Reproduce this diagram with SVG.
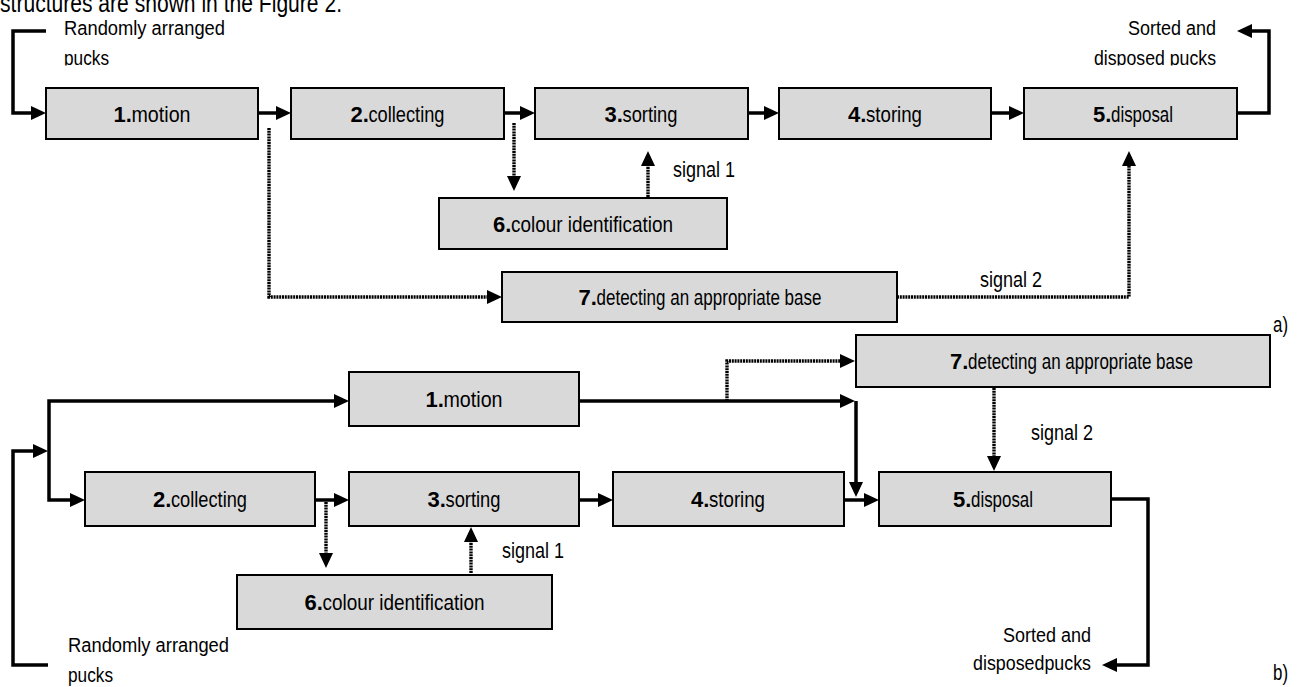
<svg xmlns="http://www.w3.org/2000/svg" width="1301" height="687" viewBox="0 0 1301 687">
<style>
text{font-family:"Liberation Sans",Arial,sans-serif;font-size:22px;fill:#000}
.s{font-size:20px}
.n{font-weight:bold}
.r{text-anchor:end}
.box{fill:#d9d9d9;stroke:#000;stroke-width:2}
.ln{fill:none;stroke:#000;stroke-width:3.5;stroke-linejoin:miter}
.dt{fill:none;stroke:#000;stroke-width:3.4;stroke-dasharray:2 0.8}
</style>
<defs>
<marker id="ah" viewBox="0 0 15 14" markerWidth="15" markerHeight="14" refX="11" refY="7" orient="auto" markerUnits="userSpaceOnUse">
<path d="M0,0 L15,7 L0,14 z" fill="#000"/>
</marker>
<clipPath id="clipTop"><rect x="0" y="0" width="1301" height="65.5"/></clipPath>
</defs>
<text x="0" y="12" style="font-size:25px" textLength="342" lengthAdjust="spacingAndGlyphs">structures are shown in the Figure 2.</text>
<g id="labels-a">
<g clip-path="url(#clipTop)">
<text class="s" x="64" y="35" textLength="161" lengthAdjust="spacingAndGlyphs">Randomly arranged</text>
<text class="s" x="64" y="65" textLength="45" lengthAdjust="spacingAndGlyphs">pucks</text>
<text class="s r" x="1216" y="35" textLength="88" lengthAdjust="spacingAndGlyphs">Sorted and</text>
<text class="s r" x="1216" y="65" textLength="122" lengthAdjust="spacingAndGlyphs">disposed pucks</text>
</g>
<text x="673" y="177" textLength="62" lengthAdjust="spacingAndGlyphs">signal 1</text>
<text x="980" y="287" textLength="62" lengthAdjust="spacingAndGlyphs">signal 2</text>
<text x="1273" y="332" textLength="15" lengthAdjust="spacingAndGlyphs">a)</text>
</g>
<g id="a-node1"><rect class="box" x="46" y="88" width="212" height="51"/><text class="n" x="113.5" y="122">1.</text><text x="131.5" y="122" textLength="59" lengthAdjust="spacingAndGlyphs">motion</text></g>
<g id="a-node2"><rect class="box" x="291" y="88" width="213" height="51"/><text class="n" x="350.5" y="122">2.</text><text x="368.5" y="122" textLength="76" lengthAdjust="spacingAndGlyphs">collecting</text></g>
<g id="a-node3"><rect class="box" x="535" y="88" width="213" height="51"/><text class="n" x="604.5" y="122">3.</text><text x="622.5" y="122" textLength="55" lengthAdjust="spacingAndGlyphs">sorting</text></g>
<g id="a-node4"><rect class="box" x="779" y="88" width="212" height="51"/><text class="n" x="848" y="122">4.</text><text x="866" y="122" textLength="56" lengthAdjust="spacingAndGlyphs">storing</text></g>
<g id="a-node5"><rect class="box" x="1024" y="88" width="213" height="51"/><text class="n" x="1093" y="122">5.</text><text x="1111" y="122" textLength="62" lengthAdjust="spacingAndGlyphs">disposal</text></g>
<g id="a-node6"><rect class="box" x="439" y="198" width="288" height="51"/><text class="n" x="493" y="232">6.</text><text x="511" y="232" textLength="162" lengthAdjust="spacingAndGlyphs">colour identification</text></g>
<g id="a-node7"><rect class="box" x="502" y="272" width="395" height="50"/><text class="n" x="578.5" y="305">7.</text><text x="596.5" y="305" textLength="225" lengthAdjust="spacingAndGlyphs">detecting an appropriate base</text></g>
<g id="labels-b">
<text class="s" x="68" y="652" textLength="161" lengthAdjust="spacingAndGlyphs">Randomly arranged</text>
<text class="s" x="68" y="682" textLength="45" lengthAdjust="spacingAndGlyphs">pucks</text>
<text class="s r" x="1091" y="642" textLength="88" lengthAdjust="spacingAndGlyphs">Sorted and</text>
<text class="s r" x="1091" y="670" textLength="118" lengthAdjust="spacingAndGlyphs">disposedpucks</text>
<text x="502" y="558" textLength="62" lengthAdjust="spacingAndGlyphs">signal 1</text>
<text x="1031" y="440" textLength="62" lengthAdjust="spacingAndGlyphs">signal 2</text>
<text x="1273" y="680" textLength="15" lengthAdjust="spacingAndGlyphs">b)</text>
</g>
<g id="b-node1"><rect class="box" x="349" y="372" width="230" height="54"/><text class="n" x="425.5" y="407">1.</text><text x="443.5" y="407" textLength="59" lengthAdjust="spacingAndGlyphs">motion</text></g>
<g id="b-node2"><rect class="box" x="85" y="472" width="230" height="54"/><text class="n" x="153" y="507">2.</text><text x="171" y="507" textLength="76" lengthAdjust="spacingAndGlyphs">collecting</text></g>
<g id="b-node3"><rect class="box" x="349" y="472" width="230" height="54"/><text class="n" x="427.5" y="507">3.</text><text x="445.5" y="507" textLength="55" lengthAdjust="spacingAndGlyphs">sorting</text></g>
<g id="b-node4"><rect class="box" x="613" y="472" width="231" height="54"/><text class="n" x="691" y="507">4.</text><text x="709" y="507" textLength="56" lengthAdjust="spacingAndGlyphs">storing</text></g>
<g id="b-node5"><rect class="box" x="879" y="472" width="232" height="54"/><text class="n" x="953" y="507">5.</text><text x="971" y="507" textLength="62" lengthAdjust="spacingAndGlyphs">disposal</text></g>
<g id="b-node6"><rect class="box" x="237" y="575" width="315" height="54"/><text class="n" x="304.5" y="610">6.</text><text x="322.5" y="610" textLength="162" lengthAdjust="spacingAndGlyphs">colour identification</text></g>
<g id="b-node7"><rect class="box" x="856" y="335" width="414" height="52"/><text class="n" x="950" y="369">7.</text><text x="968" y="369" textLength="225" lengthAdjust="spacingAndGlyphs">detecting an appropriate base</text></g>
<g id="connectors">
<path class="ln" d="M46,31 H13 V113 H42" marker-end="url(#ah)"/>
<path class="ln" d="M258,113 H287" marker-end="url(#ah)"/>
<path class="ln" d="M504,113 H531" marker-end="url(#ah)"/>
<path class="ln" d="M748,113 H775" marker-end="url(#ah)"/>
<path class="ln" d="M991,113 H1020" marker-end="url(#ah)"/>
<path class="ln" d="M1237,113 H1269 V31 H1241" marker-end="url(#ah)"/>
<path class="dt" d="M269,128 V297 H498" marker-end="url(#ah)"/>
<path class="dt" d="M514,123 V187" marker-end="url(#ah)"/>
<path class="dt" d="M648,197 V155" marker-end="url(#ah)"/>
<path class="dt" d="M897,297 H1129 V155" marker-end="url(#ah)"/>
<path class="ln" d="M48,665 H13 V451 H44" marker-end="url(#ah)"/>
<path class="ln" d="M49,451 V401 H345" marker-end="url(#ah)"/>
<path class="ln" d="M49,451 V500 H81" marker-end="url(#ah)"/>
<path class="ln" d="M579,401 H851" marker-end="url(#ah)"/>
<path class="ln" d="M856,401 V493" marker-end="url(#ah)"/>
<path class="dt" d="M727,401 V361 H851" marker-end="url(#ah)"/>
<path class="ln" d="M315,500 H345" marker-end="url(#ah)"/>
<path class="ln" d="M579,500 H609" marker-end="url(#ah)"/>
<path class="ln" d="M844,500 H875" marker-end="url(#ah)"/>
<path class="dt" d="M326,502 V564" marker-end="url(#ah)"/>
<path class="dt" d="M471,573 V531" marker-end="url(#ah)"/>
<path class="dt" d="M994,388 V467" marker-end="url(#ah)"/>
<path class="ln" d="M1111,499 H1148 V665 H1106" marker-end="url(#ah)"/>
</g>
</svg>
